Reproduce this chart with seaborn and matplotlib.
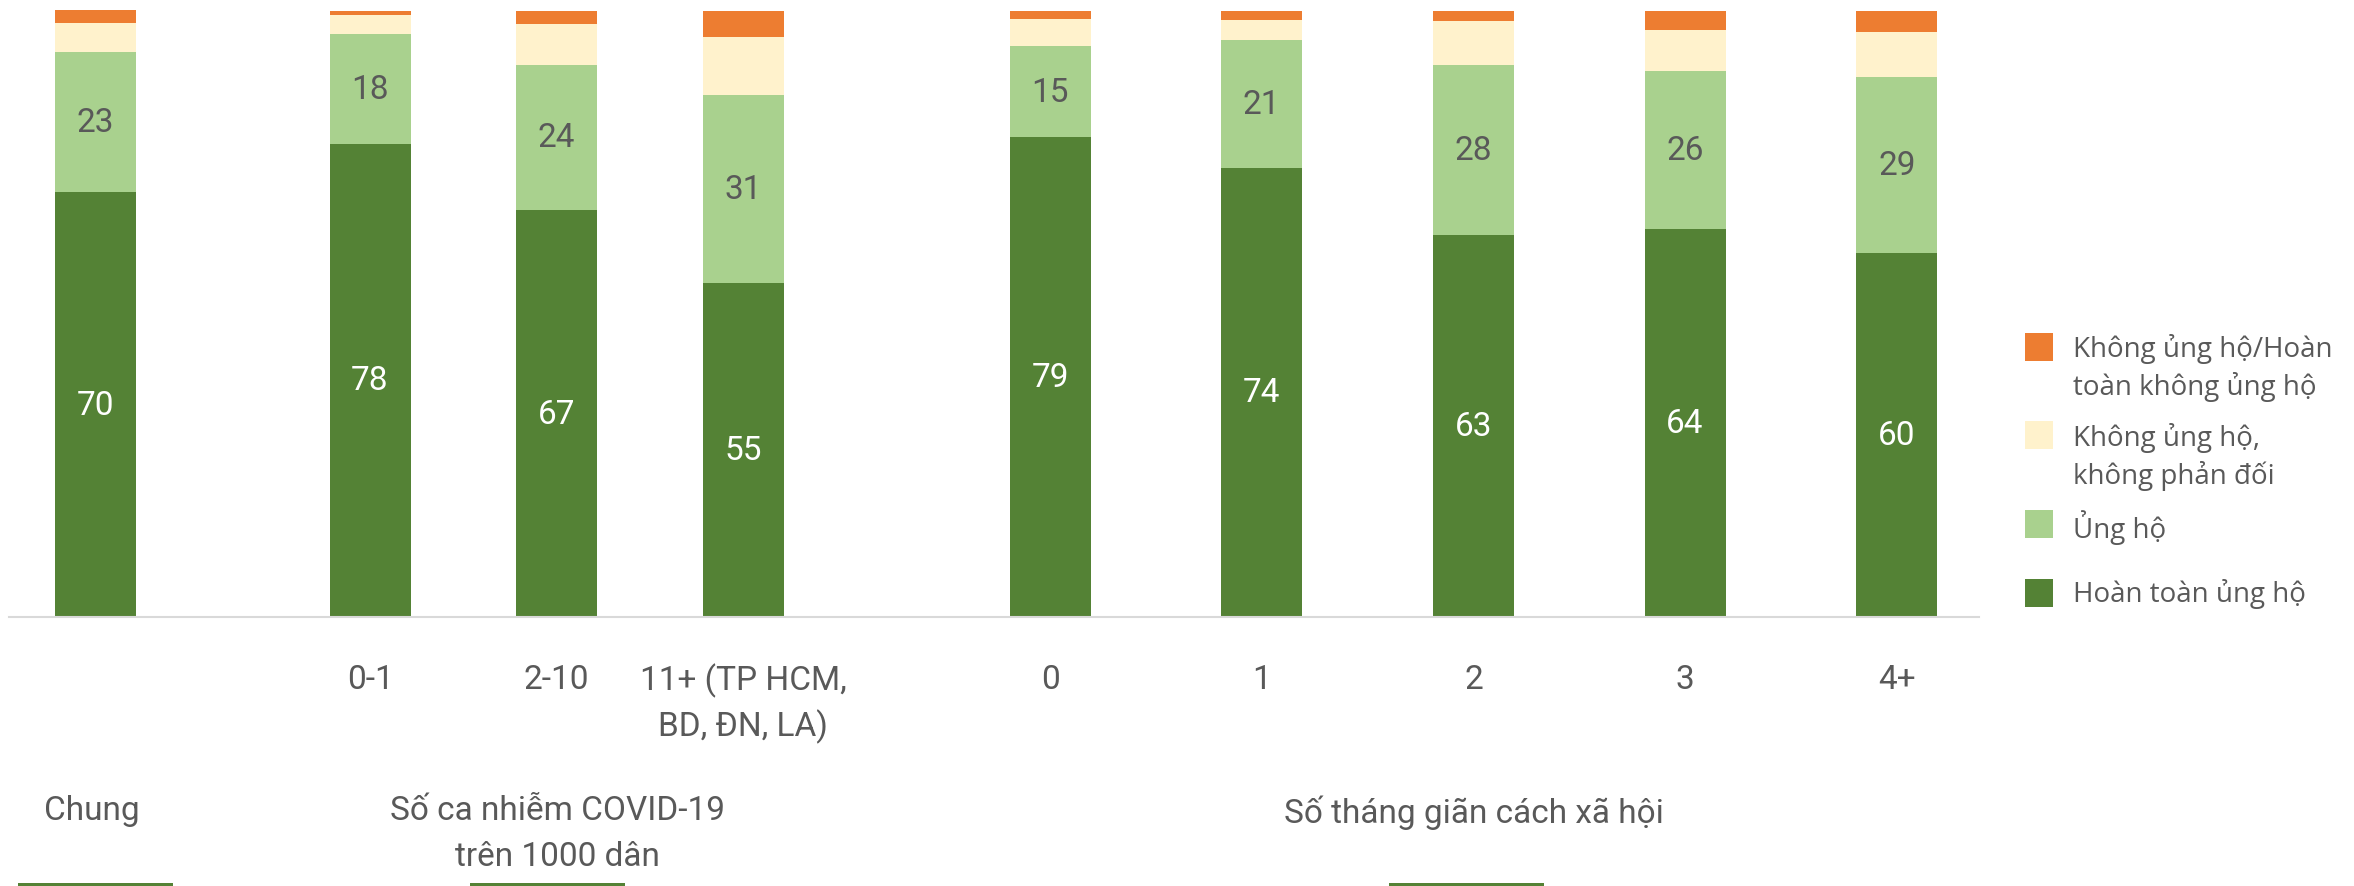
import numpy as np
import pandas as pd
import matplotlib.pyplot as plt
from matplotlib.patches import Rectangle
import seaborn as sns

# values (%)
categories = ['Chung', '0-1', '2-10', '11+ (TP HCM,\nBD, ĐN, LA)', '0', '1', '2', '3', '4+']
group_of = [0, 1, 1, 1, 2, 2, 2, 2, 2]
group_names = ['Chung', 'Số ca nhiễm COVID-19\ntrên 1000 dân', 'Số tháng giãn cách xã hội']
hoan_toan_ung_ho = [70, 78, 67, 55, 79, 74, 63, 64, 60]
ung_ho = [23, 18, 24, 31, 15, 21, 28, 26, 29]
trung_lap = [4.9, 3.2, 6.7, 9.6, 4.5, 3.4, 7.2, 6.7, 7.4]
khong_ung_ho = [2.1, 0.7, 2.1, 4.2, 1.3, 1.4, 1.6, 3.1, 3.4]

series_names = ['Hoàn toàn ủng hộ', 'Ủng hộ', 'Không ủng hộ,\nkhông phản đối',
                'Không ủng hộ/Hoàn\ntoàn không ủng hộ']
colors = ['#548235', '#A9D18E', '#FFF2CC', '#ED7D31']
text_color = '#595959'

# layout in pixels of the 2354x887 picture
W, H = 2354, 887
group_start = [95, 370, 1050]
group_step = [0, 186.5, 211.7]
bar_w = 81

positions = []
count = [0, 0, 0]
for g in group_of:
    positions.append(group_start[g] + count[g] * group_step[g])
    count[g] += 1

df = pd.DataFrame({
    'cat': categories,
    'x': positions,
    'c1': hoan_toan_ung_ho,
    'c2': np.add(hoan_toan_ung_ho, ung_ho),
    'c3': np.add(np.add(hoan_toan_ung_ho, ung_ho), trung_lap),
})
df['c4'] = df['c3'] + khong_ung_ho

sns.set_theme(style='white')
plt.rcParams['font.family'] = ['Roboto', 'DejaVu Sans']

fig = plt.figure(figsize=(W / 100, H / 100), dpi=100)
ax = fig.add_axes([9 / W, 1 - 618 / H, (1979 - 9) / W, (618 - 11) / H])

min_step = np.min(np.diff(sorted(positions)))
# stacked bars: draw the cumulative totals from the top down
for col, color in zip(['c4', 'c3', 'c2', 'c1'], colors[::-1]):
    sns.barplot(data=df, x='x', y=col, native_scale=True, orient='x',
                width=bar_w / min_step, color=color, saturation=1,
                errorbar=None, linewidth=0, ax=ax)

ax.set_xlim(9, 1979)
ax.set_ylim(0, 100)
for s in ['top', 'left', 'right']:
    ax.spines[s].set_visible(False)
ax.spines['bottom'].set_color('#D9D9D9')
ax.spines['bottom'].set_linewidth(1.5)
ax.set_yticks([])
# the single "Chung" bar has no tick label, only the group title
tick_labels = ['' if g == 0 else c for c, g in zip(categories, group_of)]
ax.set_xticks(positions, tick_labels)
ax.tick_params(axis='x', length=0, pad=33, labelsize=24, labelcolor=text_color)
for lab in ax.get_xticklabels():
    lab.set_linespacing(1.4)
ax.set_xlabel('')
ax.set_ylabel('')

# data labels on the two green segments
for x, a, b in zip(positions, hoan_toan_ung_ho, ung_ho):
    ax.text(x, a / 2, f'{a}', ha='center', va='center', color='white', fontsize=24)
    ax.text(x, a + b / 2, f'{b}', ha='center', va='center', color=text_color, fontsize=24)

# group titles
group_x = [92, 557, 1474]
for gx, name in zip(group_x, group_names):
    fig.text(gx / W, 1 - 795 / H, name, ha='center', va='top', fontsize=24,
             color=text_color, linespacing=1.55)

# small green marks at the bottom edge
for x0 in [18, 470, 1389]:
    fig.add_artist(Rectangle((x0 / W, 0), 155 / W, 3 / H, transform=fig.transFigure,
                             color=colors[0], lw=0))

# legend drawn by hand so the box lines up with the first text line
legend_y = [348, 436, 525, 594]
text_top = [334, 423, 510, 579]
for name, color, y, ty in zip(series_names[::-1], colors[::-1], legend_y, text_top):
    fig.add_artist(Rectangle((2025 / W, 1 - (y + 14) / H), 28 / W, 28 / H,
                             transform=fig.transFigure, color=color, lw=0))
    fig.text(2073 / W, 1 - ty / H, name, ha='left', va='top', fontsize=20,
             color=text_color, linespacing=1.35, family=['Open Sans', 'DejaVu Sans'])

fig.savefig('out.png', dpi=100)
